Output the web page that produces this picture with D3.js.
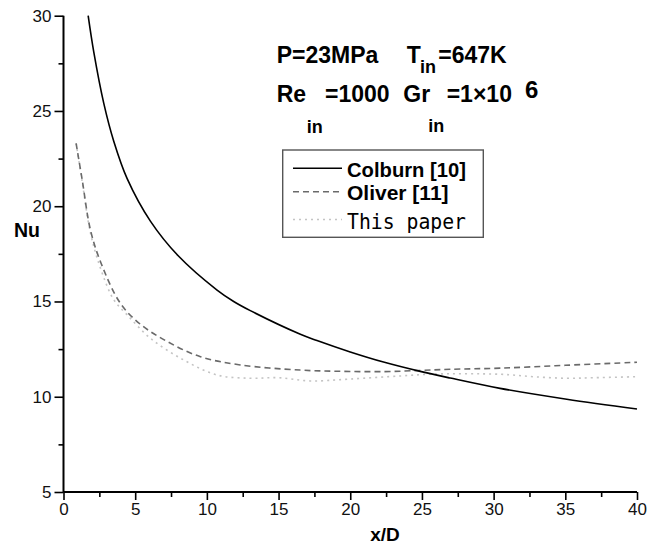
<!DOCTYPE html>
<html>
<head>
<meta charset="utf-8">
<script src="https://cdn.jsdelivr.net/npm/d3@7"></script>
<style>
  body { margin: 0; background: #fff; }
</style>
</head>
<body>
<div id="chart"></div>
<script>
// values
var colburnX = [1.72, 2.11, 2.81, 3.51, 4.44, 6.06, 8.0, 10.71, 11.87, 13.03, 16.52, 17.68, 20, 22.32, 24.88, 26.97, 30.45, 35.1, 40];
var colburnY = [30, 28.1, 25.4, 23.4, 21.45, 19.22, 17.4, 15.6, 15.0, 14.52, 13.28, 12.95, 12.35, 11.82, 11.33, 10.98, 10.44, 9.87, 9.36];

var oliverX = [0.88, 1.3, 1.88, 2.6, 3.97, 5.37, 7.23, 9.55, 12.33, 16.5, 19, 22.32, 24.88, 26.97, 30.45, 35, 40];
var oliverY = [23.3, 21.4, 18.75, 17.05, 14.9, 13.8, 12.9, 12.1, 11.67, 11.4, 11.34, 11.32, 11.38, 11.44, 11.5, 11.65, 11.81];

var paperX = [0.88, 1.3, 1.88, 2.6, 3.5, 4.44, 6.06, 8.38, 10.71, 13.03, 15, 17.2, 20, 23.5, 25.8, 30.45, 32.8, 35.1, 37, 40];
var paperY = [23.3, 21.3, 18.6, 16.7, 15.1, 14.3, 13.07, 11.93, 11.14, 10.97, 11.0, 10.83, 10.93, 11.09, 11.19, 11.18, 11.05, 10.97, 11.0, 11.05];

var seriesNames = ["Colburn [10]", "Oliver [11]", "This paper"];
var xTicks = [0, 5, 10, 15, 20, 25, 30, 35, 40];
var yTicks = [5, 10, 15, 20, 25, 30];

var width = 647, height = 546;
var sans = "Liberation Sans, Arial, sans-serif";

var svg = d3.select("#chart").append("svg")
    .attr("width", width)
    .attr("height", height)
    .style("font-family", sans);

var x = d3.scaleLinear().domain([0, 40]).range([63.5, 637]);
var y = d3.scaleLinear().domain([5, 30]).range([492, 15.7]);

function pairs(xs, ys) {
    return xs.map(function(v, i) { return [v, ys[i]]; });
}

var line = d3.line()
    .x(function(d) { return x(d[0]); })
    .y(function(d) { return y(d[1]); })
    .curve(d3.curveCatmullRom.alpha(0.5));

var styles = [
    { stroke: "#000", dash: null, w: 1.6 },
    { stroke: "#6a6a6a", dash: "6,4", w: 1.6 },
    { stroke: "#c4c4c4", dash: "2,4", w: 1.6 }
];
var data = [pairs(colburnX, colburnY), pairs(oliverX, oliverY), pairs(paperX, paperY)];

// draw paper first so the others sit on top
[2, 1, 0].forEach(function(i) {
    svg.append("path")
        .datum(data[i])
        .attr("d", line)
        .attr("fill", "none")
        .attr("stroke", styles[i].stroke)
        .attr("stroke-width", styles[i].w)
        .attr("stroke-dasharray", styles[i].dash);
});

// axes
var xAxis = svg.append("g")
    .attr("transform", "translate(0," + y(5) + ")")
    .call(d3.axisBottom(x).tickValues(xTicks).tickSize(8).tickPadding(3).tickFormat(d3.format("d")));
var yAxis = svg.append("g")
    .attr("transform", "translate(" + x(0) + ",0)")
    .call(d3.axisLeft(y).tickValues(yTicks).tickSize(9).tickPadding(3).tickFormat(d3.format("d")));

// minor ticks
svg.append("g")
    .attr("transform", "translate(0," + y(5) + ")")
    .call(d3.axisBottom(x).tickValues(d3.range(2.5, 40, 5)).tickSize(5).tickFormat(""))
    .select(".domain").remove();
svg.append("g")
    .attr("transform", "translate(" + x(0) + ",0)")
    .call(d3.axisLeft(y).tickValues(d3.range(7.5, 30, 5)).tickSize(5).tickFormat(""))
    .select(".domain").remove();

svg.selectAll(".domain").attr("stroke-width", 2);
xAxis.select(".domain").attr("d", "M" + x(0) + ",0H" + x(40));
yAxis.select(".domain").attr("d", "M0," + y(5) + "V" + y(30));
svg.selectAll(".tick line").attr("stroke-width", 1.6);
svg.selectAll(".tick text")
    .style("font-family", sans)
    .style("font-size", "17px")
    .attr("fill", "#111");

// axis titles
svg.append("text").attr("x", 14).attr("y", 237)
    .style("font-size", "19.5px").style("font-weight", "bold").text("Nu");
svg.append("text").attr("x", 385).attr("y", 541).attr("text-anchor", "middle")
    .style("font-size", "19px").style("font-weight", "bold").text("x/D");

// condition annotations
function t(px, py, size, str) {
    return svg.append("text").attr("x", px).attr("y", py)
        .style("font-size", size + "px").style("font-weight", "bold").text(str);
}
t(276.7, 63.3, 23, "P=23MPa");
t(406.7, 63.3, 23, "T");
t(420, 72.7, 18, "in");
t(438.3, 63.3, 23, "=647K");
t(276.7, 101.7, 23, "Re");
t(306.7, 133, 18, "in");
t(325, 101.7, 23, "=1000");
t(403.3, 101.7, 23, "Gr");
t(428.3, 132, 18, "in");
t(446.7, 101.7, 23, "=1\u00d710");
t(525, 98, 24, "6");

// legend
var legend = svg.append("g");
legend.append("rect")
    .attr("x", 282.7).attr("y", 150)
    .attr("width", 200.6).attr("height", 87.3)
    .attr("fill", "#fff").attr("stroke", "#555").attr("stroke-width", 1.4);

var rowY = [168.3, 191.7, 219.5];
var textY = [177.3, 200, 229.3];
seriesNames.forEach(function(name, i) {
    legend.append("line")
        .attr("x1", 293).attr("x2", 342)
        .attr("y1", rowY[i]).attr("y2", rowY[i])
        .attr("stroke", styles[i].stroke)
        .attr("stroke-width", styles[i].w)
        .attr("stroke-dasharray", styles[i].dash);
    var txt = legend.append("text")
        .attr("x", 347).attr("y", textY[i])
        .text(name);
    if (i < 2) {
        txt.style("font-size", "21px").style("font-weight", "bold");
        if (i === 0) txt.attr("textLength", 119).attr("lengthAdjust", "spacingAndGlyphs");
    } else {
        txt.style("font-family", "DejaVu Sans Mono, Liberation Mono, monospace")
            .style("font-size", "21px")
            .attr("textLength", 119).attr("lengthAdjust", "spacingAndGlyphs");
    }
});
</script>
</body>
</html>
